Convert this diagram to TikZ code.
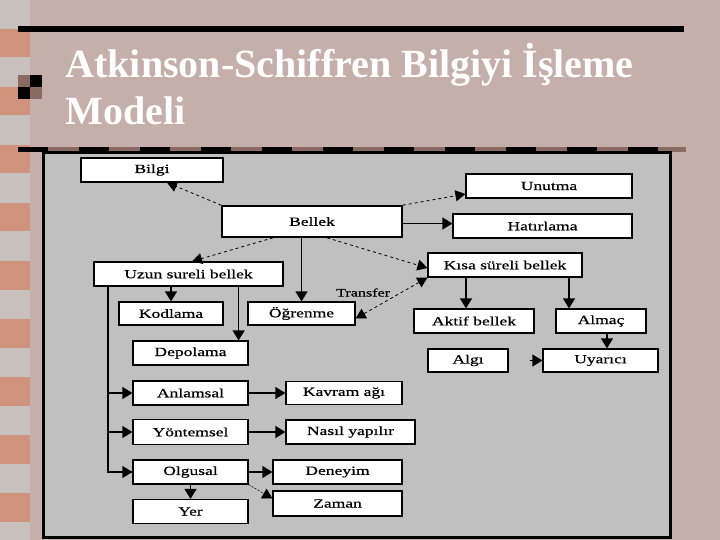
\documentclass[tikz,border=0pt]{standalone}
\usepackage{fontspec}
\setmainfont{Liberation Serif}
\newfontfamily\kutufont[FakeStretch=1.4,FakeBold=0.6]{Liberation Serif}
\usetikzlibrary{arrows.meta}
\definecolor{pembe}{RGB}{196,175,170}
\definecolor{seritgri}{RGB}{200,192,188}
\definecolor{somon}{RGB}{207,146,122}
\definecolor{kahve}{RGB}{140,106,100}
\definecolor{panelgri}{RGB}{192,192,192}

\begin{document}
\begin{tikzpicture}[x=1pt, y=-1pt,
		kutu/.style={draw, fill=white, line width=1.2pt, inner sep=0pt, font=\kutufont\fontsize{12.5}{13}\selectfont},
		ok/.style={-{Triangle[length=10pt,width=12pt]}, line width=1.2pt},
		kesikok/.style={-{Triangle[length=10pt,width=11pt]}, dashed, line width=0.8pt}]
		\useasboundingbox (0,0) rectangle (720,540);
		\fill[pembe] (0,0) rectangle (720,540);
		\fill[seritgri] (0,0) rectangle (30,540);
		\foreach \y in {29,87,...,500}
			\fill[somon] (0,\y) rectangle (30,\y+28.5);
		\fill[kahve] (18,75) rectangle (30,87);
		\fill[black] (30,75) rectangle (42,87);
		\fill[black] (18,87) rectangle (30,99);
		\fill[kahve] (30,87) rectangle (42,99);
		\fill[black] (18,26) rectangle (684,32);
		\fill[kahve] (18,147) rectangle (686,152);
		\foreach \x in {18,79,...,628}
			\fill[black] (\x,147) rectangle (\x+30,152);
		\node[anchor=base west, text=white, font=\bfseries\fontsize{40}{47}\selectfont] at (62,78) (baslik) {Atkinson-Schiffren Bilgiyi İşleme};
		\node[anchor=base west, text=white, font=\bfseries\fontsize{40}{47}\selectfont] at (62,125) (baslik2) {Modeli};
		\draw[line width=3pt, fill=panelgri] (43.5,152.5) rectangle (670.5,537.5);

		\node[kutu, minimum width=142pt, minimum height=24pt] at (152,170) (bilgi) {Bilgi};
		\node[kutu, minimum width=180pt, minimum height=31pt, line width=1.6pt] at (312,221.5) (bellek) {Bellek};
		\node[kutu, minimum width=166pt, minimum height=24pt] at (549,186) (unutma) {Unutma};
		\node[kutu, minimum width=179pt, minimum height=24pt] at (542.5,226) (hatirlama) {Hatırlama};
		\node[kutu, minimum width=189pt, minimum height=24pt] at (188.5,274) (uzun) {Uzun sureli bellek};
		\node[kutu, minimum width=154pt, minimum height=24pt] at (505,265) (kisa) {Kısa süreli bellek};

		\node[kutu, minimum width=104pt, minimum height=23pt] at (171,313.5) (kodlama) {Kodlama};
		\node[kutu, minimum width=107pt, minimum height=23pt] at (301.5,313.5) (ogrenme) {Öğrenme};
		\node[kutu, minimum width=115pt, minimum height=24pt] at (190.5,353) (depolama) {Depolama};
		\node[kutu, minimum width=120pt, minimum height=24pt] at (474,321) (aktif) {Aktif bellek};
		\node[kutu, minimum width=90pt, minimum height=24pt] at (601,321) (almac) {Almaç};
		\node[kutu, minimum width=80pt, minimum height=23pt] at (468,360.5) (algi) {Algı};
		\node[kutu, minimum width=115pt, minimum height=23pt] at (600.5,360.5) (uyarici) {Uyarıcı};

		\node[kutu, minimum width=115pt, minimum height=24pt] at (190.5,393) (anlamsal) {Anlamsal};
		\node[kutu, minimum width=116pt, minimum height=23pt] at (344,393) (kavram) {Kavram ağı};
		\node[kutu, minimum width=115pt, minimum height=25pt] at (190.5,432) (yontemsel) {Yöntemsel};
		\node[kutu, minimum width=129pt, minimum height=24pt] at (350.5,432) (nasil) {Nasıl yapılır};
		\node[kutu, minimum width=115pt, minimum height=24pt] at (190.5,472) (olgusal) {Olgusal};
		\node[kutu, minimum width=129pt, minimum height=24pt] at (337.5,472) (deneyim) {Deneyim};
		\node[kutu, minimum width=115pt, minimum height=24pt] at (190.5,511.5) (yer) {Yer};
		\node[kutu, minimum width=129pt, minimum height=25pt] at (337.5,503.5) (zaman) {Zaman};

		\draw[kesikok] (bellek.north west) -- ([xshift=15pt]bilgi.south);
		\draw[kesikok] (bellek.north east) -- ([yshift=-8pt]unutma.west);
		\draw[ok] ([yshift=-2pt]bellek.east) -- ([yshift=-2pt]bellek.east -| hatirlama.west);
		\draw[kesikok] ([xshift=-39pt]bellek.south) -- ([xshift=3.5pt]uzun.north);
		\draw[kesikok] ([xshift=15pt]bellek.south) -- ([yshift=-3pt]kisa.west);
		\draw[{Triangle[length=10pt,width=11pt]}-{Triangle[length=10pt,width=11pt]}, dashed, line width=0.8pt] ([yshift=-5pt]ogrenme.east) -- (kisa.south west)
			node[midway, above left, inner sep=1pt, font=\kutufont\fontsize{11.5}{12}\selectfont] (transfer) {Transfer};
		\draw[ok] (ogrenme.north |- bellek.south) -- (ogrenme.north);

		\draw[ok] (kodlama.north |- uzun.south) -- (kodlama.north);
		\coordinate (depust) at ([xshift=-10pt]depolama.north east);
		\draw[ok] (depust |- uzun.south) -- (depust);
		\coordinate (omurga) at (108,286);
		\draw[line width=1.2pt] (omurga) -- (omurga |- olgusal.west) -- (olgusal.west);
		\draw[ok] (omurga |- olgusal.west) -- (olgusal.west);
		\draw[ok] (omurga |- anlamsal.west) -- (anlamsal.west);
		\draw[ok] (omurga |- yontemsel.west) -- (yontemsel.west);

		\draw[ok] (anlamsal.east) -- (kavram.west);
		\draw[ok] (yontemsel.east) -- (nasil.west);
		\draw[ok] (olgusal.east) -- (deneyim.west);
		\draw[ok] (olgusal.south) -- (yer.north);
		\draw[kesikok, line width=0.6pt, dash pattern=on 2pt off 1.5pt] (olgusal.south east) -- ([yshift=5pt]zaman.west);

		\coordinate (aktifust) at ([xshift=-8pt]aktif.north);
		\draw[ok] (aktifust |- kisa.south) -- (aktifust);
		\coordinate (almacust) at ([xshift=-32pt]almac.north);
		\draw[ok] (almacust |- kisa.south) -- (almacust);
		\draw[ok] ([xshift=6pt]almac.south) -- ([xshift=6.5pt]uyarici.north);
		\draw[ok, shorten <=21pt] (algi.east) -- (uyarici.west);
	\end{tikzpicture}
\end{document}
